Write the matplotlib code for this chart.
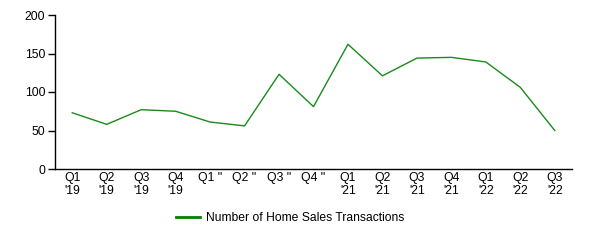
import matplotlib
matplotlib.use("Agg")
import matplotlib.pyplot as plt
from matplotlib.lines import Line2D

categories = ["Q1\n'19", "Q2\n'19", "Q3\n'19", "Q4\n'19",
              "Q1 ''", "Q2 ''", "Q3 ''", "Q4 ''",
              "Q1\n'21", "Q2\n'21", "Q3\n'21", "Q4\n'21",
              "Q1\n'22", "Q2\n'22", "Q3\n'22"]
transactions = [73, 58, 77, 75, 61, 56, 123, 81, 162, 121, 144, 145, 139, 106, 50]
series_name = "Number of Home Sales Transactions"
y_ticks = [0, 50, 100, 150, 200]

plt.rcParams['font.family'] = ['Liberation Sans', 'DejaVu Sans']

fig = plt.figure(figsize=(5.9, 2.4), dpi=100)
ax = fig.add_axes([55/590, 1 - 169/240, (572-55)/590, (169-15)/240])

x = list(range(len(categories)))
ax.plot(x, transactions, color='#1a8a1a', linewidth=1.0)

ax.set_xlim(-0.5, len(categories) - 0.5)
ax.set_ylim(0, 200)
ax.set_yticks(y_ticks)
ax.set_yticklabels([str(v) for v in y_ticks], fontsize=8.8, color='#000000')
ax.set_xticks(x)
ax.set_xticklabels(categories, fontsize=8.8, color='#000000', va='top', linespacing=1.1)
ax.tick_params(axis='x', length=0, pad=2)
ax.tick_params(axis='y', length=5, width=1, pad=2, color='black')
for s in ['top', 'right']:
    ax.spines[s].set_visible(False)
for s in ['left', 'bottom']:
    ax.spines[s].set_color('black')
    ax.spines[s].set_linewidth(1)

handle = Line2D([], [], color='#008000', linewidth=2)
fig.legend([handle], [series_name], loc='center', bbox_to_anchor=(290/590, 1 - 218/240),
           frameon=False, fontsize=8.7, handlelength=2.0, handletextpad=0.5)

fig.savefig("out.png", dpi=100, facecolor='white')
